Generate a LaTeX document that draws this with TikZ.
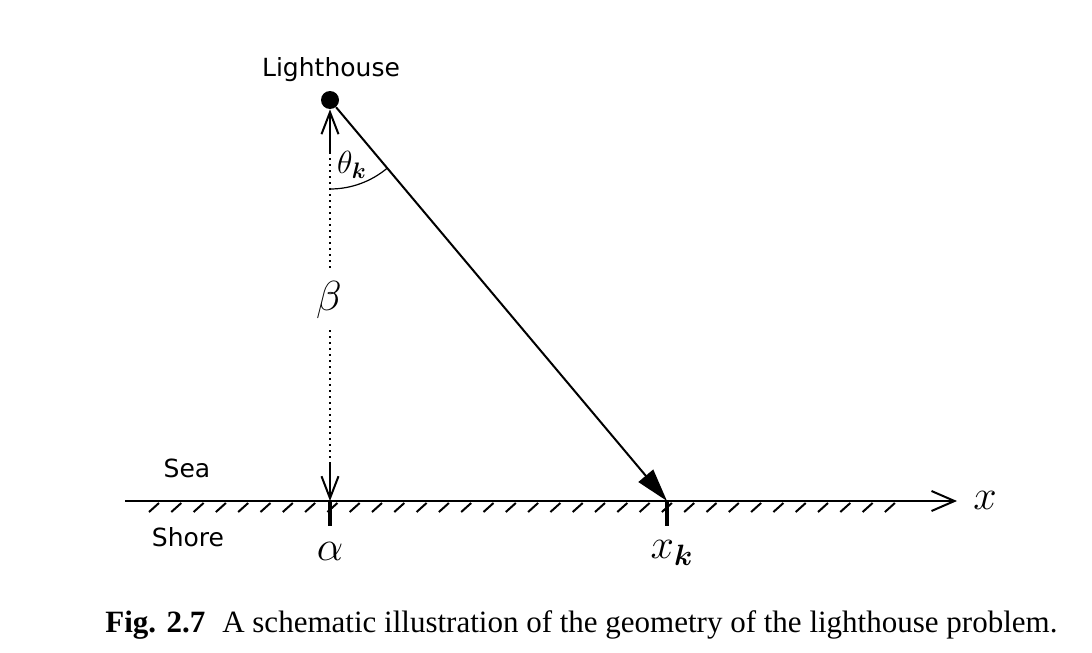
\RequirePackage{fix-cm}
\documentclass[tikz,border=0pt]{standalone}
\usepackage{fontspec}
\usepackage{bm}
\usetikzlibrary{arrows.meta}
\newfontfamily\labfont{DejaVu Sans}
\newfontfamily\capfont{Liberation Serif}
\begin{document}
\begin{tikzpicture}[x=0.5pt,y=-0.5pt,
  thin line/.style={line width=1pt},
  barbtip/.style={-{Straight Barb[length=11pt,width=8.5pt]}},
  sanslabel/.style={font=\labfont\fontsize{12.5}{15}\selectfont, inner sep=0pt},
  mathlabel/.style={font=\fontsize{21}{25}\selectfont, inner sep=0pt},
  tick/.style={line width=2pt}]
\useasboundingbox (0,0) rectangle (1092,653);

% key points
\node[circle, fill, inner sep=0pt, minimum size=9pt] (L) at (330,100) {};
\coordinate (A) at (330,501);
\coordinate (X) at (667,501);
\coordinate (ax0) at (125,501);
\coordinate (ax1) at (957,501);
\coordinate (vtop) at (330,152);
\coordinate (d1) at (330,270);
\coordinate (d2) at (330,330);
\coordinate (vbot) at (330,463);
\coordinate (tA) at (330,526);
\coordinate (tX) at (667,526);

% labels
\node[sanslabel] (lh) at (331,70) {Lighthouse};
\node[sanslabel] (sea) at (187,468) {Sea};
\node[sanslabel] (shore) at (188,537) {Shore};
\node[mathlabel] (beta) at (329,300) {$\beta$};
\node[mathlabel] (alpha) at (330,551) {$\alpha$};
\node[mathlabel] (xl) at (985,500) {$x$};
\node[mathlabel] (xk) at (672,553) {$x_{\bm{k}}$};
\node[font=\fontsize{16}{19}\selectfont, inner sep=0pt] (th) at (352,165) {$\theta_{\bm{k}}$};

% vertical line lighthouse -- shore
\draw[thin line, barbtip] (vtop) -- (L);
\draw[thin line, dotted] (vtop) -- (d1);
\draw[thin line, dotted] (d2) -- (vbot);
\draw[thin line, barbtip] (vbot) -- (A);

% ray to the shore
\draw[thin line, -{Triangle[length=16.5pt,width=9.5pt]}] (L) -- (X);

% angle arc
\draw[line width=0.6pt] ([shift={(90:89)}]L.center) arc[start angle=90, end angle=49.96, radius=89];

% axis
\draw[thin line, -{Straight Barb[length=11.5pt,width=10pt]}] (ax0) -- (ax1);

% hatching
\foreach \i in {0,...,33}
  \draw[thin line] (149+22.3*\i,512) -- ++(10,-9);

% ticks
\draw[tick] (A) -- (tA);
\draw[tick] (X) -- (tX);

% caption
\node[anchor=base west, inner sep=0pt, font=\capfont\fontsize{15.5}{18}\selectfont] (cap) at (105,632)
  {\textbf{Fig. 2.7}\hspace{0.55em}A schematic illustration of the geometry of the lighthouse problem.};
\end{tikzpicture}
\end{document}
